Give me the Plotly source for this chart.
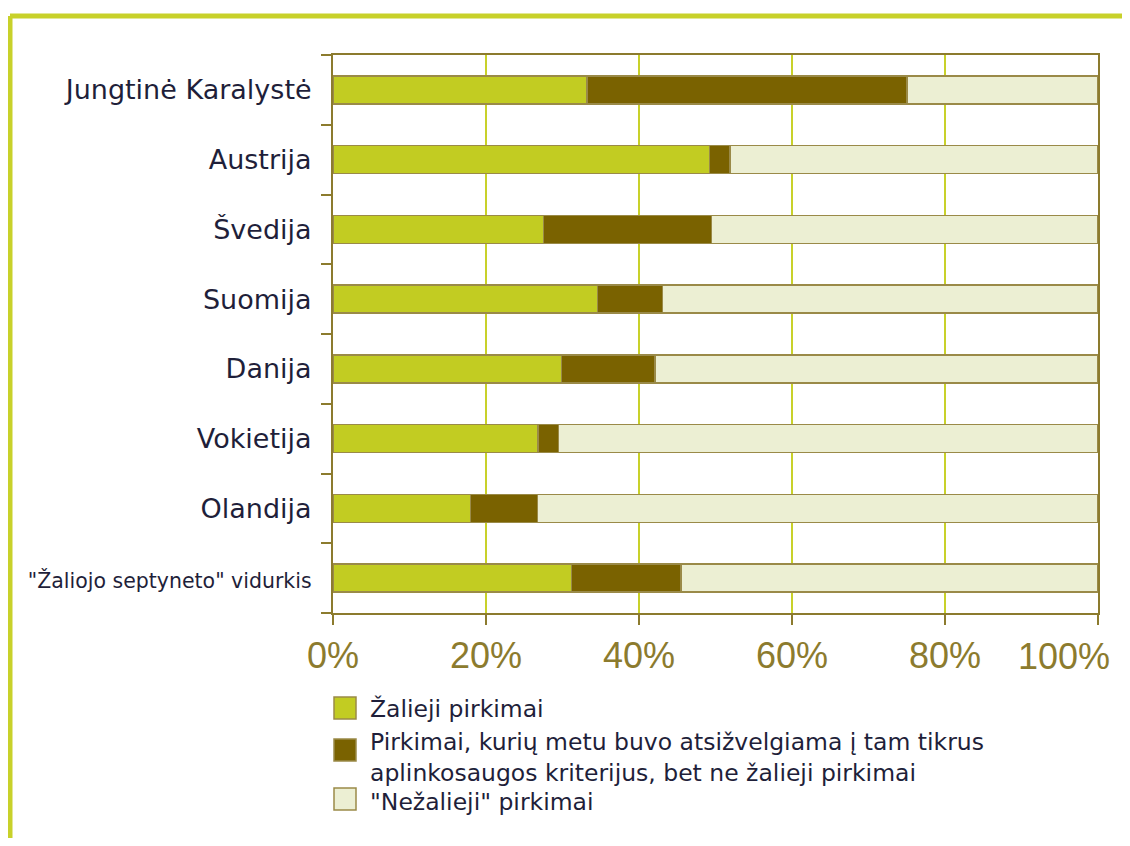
import plotly.graph_objects as go

countries = ["Jungtinė Karalystė", "Austrija", "Švedija", "Suomija", "Danija",
             "Vokietija", "Olandija", "\"Žaliojo septyneto\" vidurkis"]
green = [33.2, 49.2, 27.5, 34.6, 29.9, 26.8, 18.0, 31.2]
partial = [41.8, 2.7, 22.0, 8.5, 12.2, 2.7, 8.7, 14.3]
nongreen = [25.0, 48.1, 50.5, 56.9, 57.9, 70.5, 73.3, 54.5]
series_names = ["Žalieji pirkimai",
                "Pirkimai, kurių metu buvo atsižvelgiama į tam tikrus<br>aplinkosaugos kriterijus, bet ne žalieji pirkimai",
                "\"Nežalieji\" pirkimai"]
colors = ["#c2cc22", "#7a6200", "#ecefd3"]
xticks = [0, 20, 40, 60, 80, 100]
xticklabels = ["0%", "20%", "40%", "60%", "80%", "100%"]

OFF = 8  # page body margin
W, H = 1130 - 2 * OFF, 846 - 2 * OFF
L, R, T, B = 333, 1098, 55, 613  # screen pixel positions of plot area
olive = "#8c7b2e"
frame = "#c8d12a"
label_font = "DejaVu Sans"
tick_font = dict(family="Liberation Sans", size=36, color=olive)

ticktext = countries[:-1] + ['<span style="font-size:20.5px">' + countries[-1] + '</span>']
# last x tick label is drawn as an annotation (shifted left so it stays inside, as in the original)
xtick_text = xticklabels[:-1] + [""]

fig = go.Figure()
for vals, name, col in zip([green, partial, nongreen], series_names, colors):
    fig.add_trace(go.Bar(y=countries, x=vals, orientation="h", name=name,
                         marker=dict(color=col, line=dict(color="#9a8a48", width=1.5)),
                         width=0.4, showlegend=False))

fig.update_layout(
    width=W, height=H, barmode="stack",
    margin=dict(l=L - OFF, r=W - (R - OFF), t=T - OFF, b=H - (B - OFF), autoexpand=False),
    paper_bgcolor="white", plot_bgcolor="white",
    font=dict(family=label_font, color="#1f1f3a"),
    xaxis=dict(range=[0, 100], tickvals=xticks, ticktext=xtick_text,
               tickfont=tick_font, automargin=False,
               showgrid=True, gridcolor=frame, gridwidth=1.5,
               showline=True, linecolor=olive, linewidth=2, mirror=True,
               ticks="outside", ticklen=10, tickcolor=olive, tickwidth=2,
               zeroline=False, fixedrange=True),
    yaxis=dict(categoryorder="array", categoryarray=countries, autorange="reversed",
               tickvals=countries, ticktext=ticktext, automargin=False,
               tickfont=dict(family=label_font, size=27, color="#1f1f3a"),
               showline=True, linecolor=olive, linewidth=2, mirror=True,
               ticks="outside", ticklen=10, tickcolor=olive, tickwidth=2,
               tickson="boundaries", showgrid=False, ticklabelstandoff=14),
)

def px_x(p):
    return (p - L) / (R - L)

def px_y(p):
    return (B - p) / (B - T)

fig.add_annotation(xref="x", yref="paper", x=xticks[-1], y=px_y(656),
                   xanchor="right", yanchor="middle", xshift=14,
                   text=xticklabels[-1], showarrow=False, font=tick_font)

# outer frame (left and top)
fig.add_shape(type="line", xref="paper", yref="paper",
              x0=px_x(10), x1=px_x(1140), y0=px_y(16), y1=px_y(16),
              line=dict(color=frame, width=5))
fig.add_shape(type="line", xref="paper", yref="paper",
              x0=px_x(10), x1=px_x(10), y0=px_y(16), y1=px_y(860),
              line=dict(color=frame, width=5))

# manual legend
sq_tops = [697, 739, 788]
text_tops = [693, 726, 786]
for name, col, st, tt in zip(series_names, colors, sq_tops, text_tops):
    fig.add_shape(type="rect", xref="paper", yref="paper",
                  x0=px_x(334), x1=px_x(356), y0=px_y(st), y1=px_y(st + 22),
                  fillcolor=col, line=dict(color="#9a8a48", width=1.5))
    fig.add_annotation(xref="paper", yref="paper", x=px_x(368), y=px_y(tt),
                       xanchor="left", yanchor="top", align="left",
                       text=name, showarrow=False,
                       font=dict(family=label_font, size=23.5, color="#1f1f3a"))

fig.write_html("out.html")
